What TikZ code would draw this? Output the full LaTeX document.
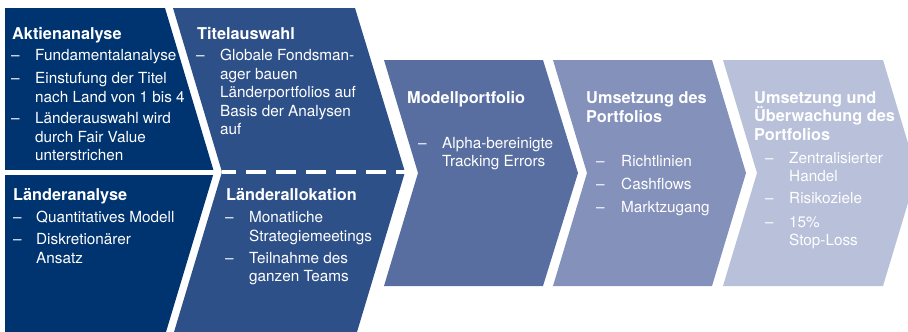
\documentclass[tikz,border=0pt]{standalone}
\usepackage{fontspec}
\setmainfont{TeX Gyre Heros}
\definecolor{colA}{RGB}{0,52,112}
\definecolor{colB}{RGB}{46,80,137}
\definecolor{colC}{RGB}{88,110,160}
\definecolor{colD}{RGB}{131,145,187}
\definecolor{colE}{RGB}{184,192,218}
\tikzset{
  bodytxt/.style={anchor=base west, inner sep=0pt, text=white, font=\fontsize{15.3}{18}\selectfont},
  headtxt/.style={anchor=base west, inner sep=0pt, text=white, font=\fontsize{16.3}{19}\selectfont\bfseries},
  sepline/.style={draw=white, line width=5pt},
  sepdash/.style={draw=white, line width=4.6pt, dash pattern=on 20pt off 10pt, dash phase=6pt},
}
\newcommand\tline[4]{\node[bodytxt] (#1) at (#2,#3) {#4};}
\newcommand\hdline[4]{\node[headtxt] (#1) at (#2,#3) {#4};}
\begin{document}
\begin{tikzpicture}[x=1pt,y=-1pt]
\useasboundingbox (0,0) rectangle (908,332);
\clip (0,0) rectangle (908,332);
% shapes
\fill[colA] (5,8) -- (165,8) -- (214,172) -- (166,332) -- (5,332) -- cycle;
\fill[colB] (173,8) -- (355,8) -- (405,172) -- (357,332) -- (174,332) -- (222,172) -- cycle;
\fill[colC] (384,60) -- (543,60) -- (578,173) -- (543,286) -- (384,286) -- (418,173) -- cycle;
\fill[colD] (553,60) -- (712,60) -- (746,173) -- (712,286) -- (553,286) -- (587,173) -- cycle;
\fill[colE] (723,60) -- (883,60) -- (917,173) -- (883,286) -- (723,286) -- (757,173) -- cycle;
% separators
\coordinate (s1a) at (5,172);
\coordinate (s1b) at (214,172);
\coordinate (s2a) at (222,172);
\coordinate (s2b) at (405,172);
\path[sepline] (s1a) -- (s1b);
\path[sepdash] (s2a) -- (s2b);
% column 1 top
\hdline{h1}{12}{39}{Aktienanalyse}
\tline{d11}{11}{60.5}{–}\tline{t11}{35}{60.5}{Fundamentalanalyse}
\tline{d12}{11}{83.5}{–}\tline{t12}{35}{83.5}{Einstufung der Titel}
\tline{t12b}{35}{102.5}{nach Land von 1 bis 4}
\tline{d13}{11}{123.5}{–}\tline{t13}{35}{123.5}{Länderauswahl wird}
\tline{t13b}{35}{142.5}{durch Fair Value}
\tline{t13c}{35}{160.5}{unterstrichen}
% column 1 bottom
\hdline{h2}{13}{200.5}{Länderanalyse}
\tline{d21}{13}{222.5}{–}\tline{t21}{36}{222.5}{Quantitatives Modell}
\tline{d22}{13}{244.5}{–}\tline{t22}{36}{244.5}{Diskretionärer}
\tline{t22b}{36}{263.5}{Ansatz}
% column 2 top
\hdline{h3}{197}{39}{Titelauswahl}
\tline{d31}{196}{60.5}{–}\tline{t31}{220}{60.5}{Globale Fondsman-}
\tline{t31b}{220}{79}{ager bauen}
\tline{t31c}{220}{97.5}{Länderportfolios auf}
\tline{t31d}{220}{116}{Basis der Analysen}
\tline{t31e}{220}{134}{auf}
% column 2 bottom
\hdline{h4}{226}{200.5}{Länderallokation}
\tline{d41}{225}{222.5}{–}\tline{t41}{249}{222.5}{Monatliche}
\tline{t41b}{249}{241.5}{Strategiemeetings}
\tline{d42}{225}{263.5}{–}\tline{t42}{249}{263.5}{Teilnahme des}
\tline{t42b}{249}{281.5}{ganzen Teams}
% column 3
\hdline{h5}{407}{103}{Modellportfolio}
\tline{d51}{418}{148}{–}\tline{t51}{442}{148}{Alpha-bereinigte}
\tline{t51b}{442}{166.5}{Tracking Errors}
% column 4
\hdline{h6}{586}{103}{Umsetzung des}
\hdline{h6b}{586}{122}{Portfolios}
\tline{d61}{596}{166.5}{–}\tline{t61}{621}{166.5}{Richtlinien}
\tline{d62}{596}{189.5}{–}\tline{t62}{621}{189.5}{Cashflows}
\tline{d63}{596}{212}{–}\tline{t63}{621}{212}{Marktzugang}
% column 5
\hdline{h7}{754}{103}{Umsetzung und}
\hdline{h7b}{754}{121.5}{Überwachung des}
\hdline{h7c}{754}{140.5}{Portfolios}
\tline{d71}{765}{163}{–}\tline{t71}{789}{163}{Zentralisierter}
\tline{t71b}{789}{181.5}{Handel}
\tline{d72}{765}{203.5}{–}\tline{t72}{789}{203.5}{Risikoziele}
\tline{d73}{765}{227}{–}\tline{t73}{789}{227}{15\%}
\tline{t73b}{789}{245.5}{Stop-Loss}
\end{tikzpicture}
\end{document}
